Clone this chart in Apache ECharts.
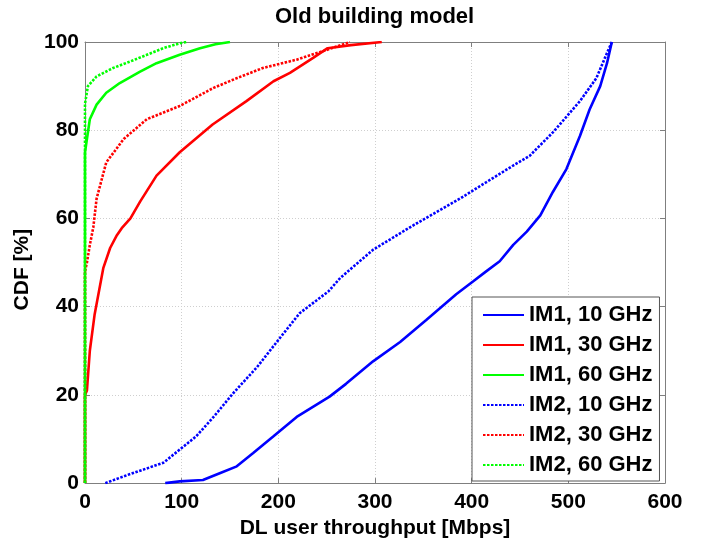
<!DOCTYPE html>
<html>
<head>
<meta charset="utf-8">
<script src="https://cdn.jsdelivr.net/npm/echarts@6/dist/echarts.min.js"></script>
<style>
  html, body { margin: 0; padding: 0; background: #fff; }
  #chart { width: 711px; height: 544px; }
</style>
</head>
<body>
<div id="chart"></div>
<script>
// Empirical CDFs of DL user throughput: [throughput in Mbps, CDF in %]
const im1_10GHz = [[83,0],[98,0.4],[122,0.7],[140,2.3],[157,3.8],[174,6.8],[195,10.6],[219,15],[253,19.6],[270,22.5],[298,27.6],[326,32],[353,37],[384,42.8],[402,45.8],[415,48],[429,50.3],[443,54],[457,57],[471,60.7],[484,66],[498,71.2],[512,78.7],[522,84.7],[533,90],[540,95.2],[545,100]];
const im1_30GHz = [[0,0],[0,20],[2,21],[5,30],[10,38.3],[19,48.8],[26,53.3],[33,56.2],[38,57.8],[47,60],[57,63.8],[74,69.7],[98,75],[132,81.3],[167,86.6],[195,91.1],[212,93],[236,96.4],[251,98.6],[275,99.3],[307,100]];
const im1_60GHz = [[0,0],[0,75],[2,78],[5,82.5],[12,85.8],[22,88.5],[36,90.7],[57,93.3],[74,95.2],[98,97.1],[119,98.6],[135,99.5],[150,100]];
const im2_10GHz = [[21,0],[46,2],[81,4.6],[98,7.6],[115,10.6],[133,15],[153,20.3],[178,26.3],[202,33],[222,38.5],[252,43.5],[264,46.5],[298,52.9],[340,58.5],[388,64.5],[415,68.2],[443,72],[460,74.2],[484,79.5],[512,86.6],[529,91.8],[540,97.5],[545,100]];
const im2_30GHz = [[0,0],[0,48],[2,50],[5,54],[8.6,58],[12,64.5],[22,72.7],[40,78],[64,82.5],[98,85.5],[133,89.6],[157,91.8],[184,94.1],[219,96],[250,98.2],[274,100]];
const im2_60GHz = [[0,0],[0,86],[3,90],[12,92.2],[29,94.1],[47,95.6],[64,97.1],[81,98.6],[98,99.7],[105,100]];

const xTicks = [0, 100, 200, 300, 400, 500, 600];
const yTicks = [0, 20, 40, 60, 80, 100];

const FONT = 'Liberation Sans, Arial, Helvetica, sans-serif';
const BLUE = '#0000ff', RED = '#ff0000', GREEN = '#00ff00';
const DOTS = [2.5, 1.5];

function curve(name, data, color, dotted) {
  return {
    name: name,
    type: 'line',
    data: data,
    symbol: 'none',
    showSymbol: false,
    lineStyle: { color: color, width: 2.6, type: dotted ? DOTS : 'solid' },
    itemStyle: { color: color },
    emphasis: { disabled: true },
    xAxisIndex: 0,
    yAxisIndex: 0
  };
}

const axisLine = { show: true, onZero: false, lineStyle: { color: '#7f7f7f', width: 1 } };
const tick = { show: true, inside: true, length: 5, lineStyle: { color: '#7f7f7f' } };
const grid = { show: true, lineStyle: { color: '#cfcfcf', type: [1, 2], width: 1 } };
const labelStyle = { color: '#000', fontFamily: FONT, fontWeight: 'bold', fontSize: 21 };

const chart = echarts.init(document.getElementById('chart'), null, { renderer: 'canvas' });
chart.setOption({
  animation: false,
  backgroundColor: '#fff',
  title: {
    text: 'Old building model',
    left: 275,
    top: 6,
    padding: 0,
    textStyle: { color: '#000', fontFamily: FONT, fontWeight: 'bold', fontSize: 22 }
  },
  grid: { left: 85, right: 46, top: 42, bottom: 57, containLabel: false },
  xAxis: [{
    type: 'value',
    min: xTicks[0], max: xTicks[xTicks.length - 1], interval: 100,
    name: 'DL user throughput [Mbps]',
    nameLocation: 'middle',
    nameGap: 32,
    nameTextStyle: labelStyle,
    axisLine: axisLine, axisTick: tick, splitLine: grid,
    axisLabel: Object.assign({ margin: 9 }, labelStyle)
  }, {
    type: 'value', position: 'top',
    min: xTicks[0], max: xTicks[xTicks.length - 1], interval: 100,
    axisLine: axisLine, axisTick: tick,
    splitLine: { show: false }, axisLabel: { show: false }
  }],
  yAxis: [{
    type: 'value',
    min: yTicks[0], max: yTicks[yTicks.length - 1], interval: 20,
    name: 'CDF [%]',
    nameLocation: 'middle',
    nameGap: 51,
    nameTextStyle: Object.assign({ padding: [0, 14, 0, 0] }, labelStyle),
    axisLine: axisLine, axisTick: tick, splitLine: grid,
    axisLabel: Object.assign({ margin: 6 }, labelStyle)
  }, {
    type: 'value', position: 'right',
    min: yTicks[0], max: yTicks[yTicks.length - 1], interval: 20,
    axisLine: axisLine, axisTick: tick,
    splitLine: { show: false }, axisLabel: { show: false }
  }],
  legend: {
    orient: 'vertical',
    left: 472,
    top: 297,
    padding: [7, 7, 5, 10],
    itemGap: 8,
    itemWidth: 41,
    itemHeight: 14,
    itemStyle: { opacity: 0 },
    backgroundColor: '#fff',
    borderColor: '#555',
    borderWidth: 1,
    borderRadius: 0,
    selectedMode: false,
    textStyle: { color: '#000', fontFamily: FONT, fontWeight: 'bold', fontSize: 22, lineHeight: 22 },
    data: ['IM1, 10 GHz', 'IM1, 30 GHz', 'IM1, 60 GHz', 'IM2, 10 GHz', 'IM2, 30 GHz', 'IM2, 60 GHz']
  },
  series: [
    curve('IM1, 10 GHz', im1_10GHz, BLUE, false),
    curve('IM1, 30 GHz', im1_30GHz, RED, false),
    curve('IM1, 60 GHz', im1_60GHz, GREEN, false),
    curve('IM2, 10 GHz', im2_10GHz, BLUE, true),
    curve('IM2, 30 GHz', im2_30GHz, RED, true),
    curve('IM2, 60 GHz', im2_60GHz, GREEN, true)
  ]
});
</script>
</body>
</html>
